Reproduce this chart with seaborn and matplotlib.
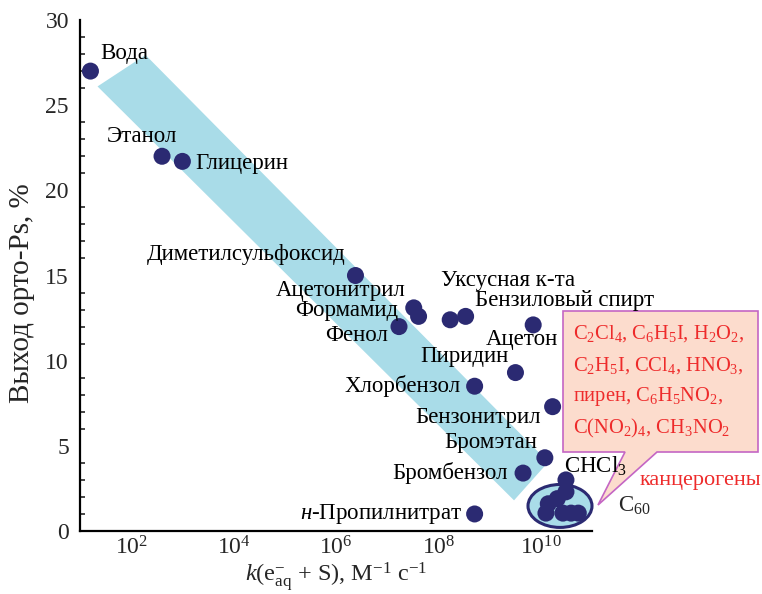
import numpy as np
import pandas as pd
import matplotlib
matplotlib.use("Agg")
import matplotlib.pyplot as plt
import seaborn as sns
from matplotlib.patches import Polygon, Ellipse
from matplotlib.ticker import FixedLocator, MultipleLocator, NullFormatter

# --- data -----------------------------------------------------------------
solvents = ["Вода", "Этанол", "Глицерин", "Диметилсульфоксид", "Ацетонитрил",
            "Формамид", "Фенол", "Уксусная к-та", "Бензиловый спирт", "Ацетон",
            "Пиридин", "Хлорбензол", "Бензонитрил", "Бромэтан", "Бромбензол",
            r"$\mathit{н}$-Пропилнитрат", "CHCl$_3$"]
k_solv = [1.6e1, 4.0e2, 1.0e3, 2.4e6, 3.3e7, 4.1e7, 1.7e7, 1.7e8, 3.4e8, 7.1e9,
          3.2e9, 5.1e8, 1.7e10, 1.2e10, 4.5e9, 5.1e8, 3.1e10]
yield_solv = [27.0, 22.0, 21.7, 15.0, 13.1, 12.6, 12.0, 12.4, 12.6, 12.1,
              9.3, 8.5, 7.3, 4.3, 3.4, 1.0, 3.0]

# carcinogens grouped near the diffusion limit
k_carc = [3.1e10, 2.1e10, 1.4e10, 1.26e10, 2.7e10, 3.9e10, 5.4e10]
yield_carc = [2.3, 1.9, 1.6, 1.05, 1.05, 1.05, 1.05]

# trend band corners (k, yield)
band_k = [2.2e1, 1.9e2, 1.4e10, 3.0e9]
band_y = [26.1, 27.95, 4.05, 1.8]

x_tick_exp = list(range(2, 12))
x_tick_labels = [f"$10^{{{e}}}$" if e % 2 == 0 else "" for e in x_tick_exp]

carc_lines = [r"C$_2$Cl$_4$, C$_6$H$_5$I, H$_2$O$_2$,",
              r"C$_2$H$_5$I, CCl$_4$, HNO$_3$,",
              r"пирен, C$_6$H$_5$NO$_2$,",
              r"C(NO$_2$)$_4$, CH$_3$NO$_2$"]

# label placement: (dx, dy) in pixels from the point, horizontal alignment
label_pos = [(10, 18, "left"), (-20, 20, "center"), (13, -2, "left"),
             (-10, 21, "right"), (-8, 17, "right"), (-20, 6, "right"),
             (-11, -9, "right"), (-9, 39, "left"), (9, 16, "left"),
             (-11, -15, "center"), (-7, 16, "right"), (-14, 0, "right"),
             (-12, -11, "right"), (-8, 15, "right"), (-15, 0, "right"),
             (-13, 0, "right"), (-2, 14, "left")]

# --- style ----------------------------------------------------------------
sns.set_style("white")
serif = "Liberation Serif"
plt.rcParams["font.family"] = [serif, "DejaVu Serif"]
plt.rcParams["mathtext.fontset"] = "custom"
plt.rcParams["mathtext.rm"] = serif
plt.rcParams["mathtext.it"] = serif + ":italic"
plt.rcParams["mathtext.bf"] = serif + ":bold"

navy = "#2B2A72"
band_col = "#A9DCE8"

fig = plt.figure(figsize=(7.62, 5.94), dpi=100)
ax = fig.add_axes([80 / 762, 63 / 594, 512 / 762, 511 / 594])
ax.patch.set_visible(False)
ax.set_xscale("log")
ax.set_xlim(1e1, 1e11)
ax.set_ylim(0, 30)

ax.add_patch(Polygon(np.column_stack([band_k, band_y]), closed=True,
                     facecolor=band_col, edgecolor="none", zorder=1))

ax.add_patch(Ellipse((0.9375, 0.049), 0.125, 0.084, transform=ax.transAxes,
                     facecolor=band_col, edgecolor=navy, lw=2.2, zorder=2,
                     clip_on=False))

df = pd.DataFrame({"k": k_solv + k_carc, "y": yield_solv + yield_carc})
sns.scatterplot(data=df, x="k", y="y", ax=ax, color=navy, s=150,
                edgecolor="none", linewidth=0, zorder=3, legend=False)

fs = 16.5
for name, kk, yy, (dx, dy, ha) in zip(solvents, k_solv, yield_solv, label_pos):
    ax.annotate(name, (kk, yy), xytext=(dx, dy), textcoords="offset pixels",
                ha=ha, va="center", fontsize=fs, color="black", zorder=4,
                annotation_clip=False)

ax.annotate("C$_{60}$", (k_carc[-1], yield_carc[-1]), xytext=(40, 7),
            textcoords="offset pixels", ha="left", va="center", fontsize=fs,
            annotation_clip=False)

# callout box listing the carcinogens (drawn beneath the axes content)
def fpx(x, y):
    return (x / 762, 1 - y / 594)

callout = [fpx(563, 311), fpx(758, 311), fpx(758, 452), fpx(657, 452),
           fpx(598, 505), fpx(625, 452), fpx(563, 452)]
fig.patches.append(Polygon(callout, closed=True, transform=fig.transFigure,
                           facecolor="#FCDCCD", edgecolor="#C466C4", lw=1.2,
                           zorder=-1))
red = "#EE2B2B"
for i, line in enumerate(carc_lines):
    fig.text(*fpx(573, 334 + 31.5 * i), line, color=red, fontsize=14.8,
             ha="left", va="center", zorder=6)
fig.text(*fpx(640, 480), "канцерогены", color=red, fontsize=16,
         ha="left", va="center")

# axes
for s in ["top", "right"]:
    ax.spines[s].set_visible(False)
for s in ["left", "bottom"]:
    ax.spines[s].set_linewidth(1.6)
    ax.spines[s].set_color("black")

ax.xaxis.set_major_locator(FixedLocator([10.0 ** e for e in x_tick_exp]))
ax.set_xticklabels(x_tick_labels)
ax.xaxis.set_minor_locator(FixedLocator([]))
ax.xaxis.set_minor_formatter(NullFormatter())
ax.yaxis.set_major_locator(MultipleLocator(5))
ax.yaxis.set_minor_locator(MultipleLocator(1))
ax.tick_params(axis="x", which="major", direction="in", length=7, width=1.4,
               labelsize=17, pad=4)
ax.tick_params(axis="y", which="major", direction="in", length=6.5, width=1.4,
               labelsize=17, pad=8)
ax.tick_params(axis="y", which="minor", direction="in", length=3.5, width=1.2,
               left=True)

ax.set_xlabel(r"$k$(e$^{-}_{\mathrm{aq}}$ + S), М$^{-1}$ с$^{-1}$",
              fontsize=17.5)
ax.xaxis.set_label_coords(0.5, -0.058)
ax.set_ylabel("Выход орто-Ps, %", fontsize=21)
ax.yaxis.set_label_coords(-0.088, 0.466)

fig.savefig("out.png", dpi=100)
